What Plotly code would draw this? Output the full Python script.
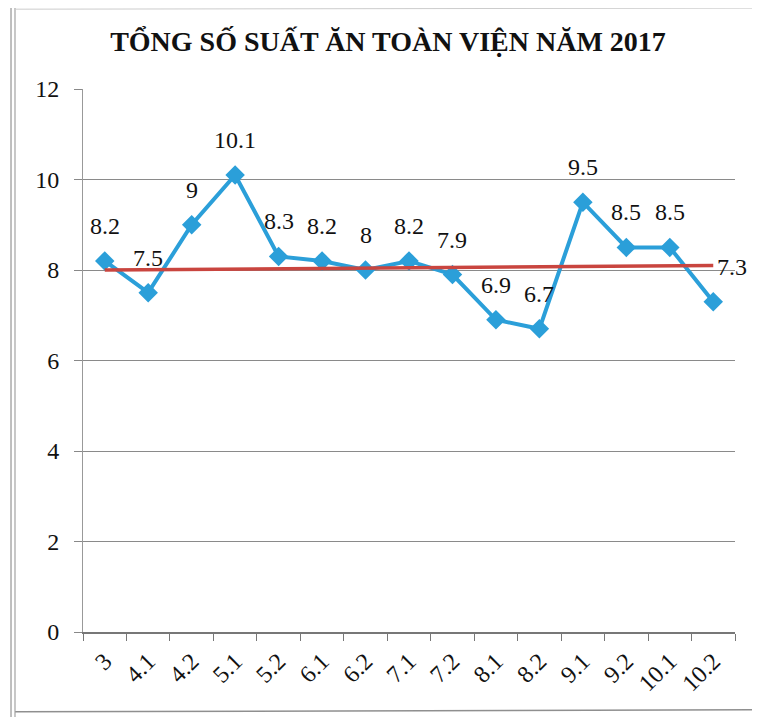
import plotly.graph_objects as go

categories = ["3", "4.1", "4.2", "5.1", "5.2", "6.1", "6.2", "7.1", "7.2", "8.1", "8.2", "9.1", "9.2", "10.1", "10.2"]
values = [8.2, 7.5, 9, 10.1, 8.3, 8.2, 8, 8.2, 7.9, 6.9, 6.7, 9.5, 8.5, 8.5, 7.3]
ref_x = ["3", "10.2"]
ref_values = [8.0, 8.1]
y_ticks = [0, 2, 4, 6, 8, 10, 12]

FONT = "Times New Roman, Liberation Serif, serif"

fig = go.Figure()
fig.add_trace(go.Scatter(
    x=categories, y=values, mode="lines+markers",
    line=dict(color="#2b9fd9", width=4),
    marker=dict(symbol="diamond", size=15, color="#2b9fd9"),
    showlegend=False,
))
fig.add_trace(go.Scatter(
    x=ref_x, y=ref_values, mode="lines",
    line=dict(color="#c9453f", width=3.5), showlegend=False,
))

for i, v in enumerate(values):
    last = i == len(values) - 1
    fig.add_annotation(x=i, y=v, text=str(v), showarrow=False,
                       yshift=35, xshift=19 if last else 0,
                       font=dict(family=FONT, size=24, color="#111111"))

fig.update_layout(
    width=760, height=717,
    paper_bgcolor="white", plot_bgcolor="white",
    margin=dict(l=75, r=33, t=81, b=93),
    title=dict(text="<b>TỔNG SỐ SUẤT ĂN TOÀN VIỆN NĂM 2017</b>",
               x=0.5, xanchor="center", y=0.953, yanchor="middle",
               font=dict(family=FONT, size=28, color="#111111")),
    font=dict(family=FONT, size=24, color="#111111"),
)
fig.update_xaxes(
    type="category", categoryorder="array", categoryarray=categories,
    range=[-0.5, 14.5], tickson="boundaries", ticks="outside", ticklen=7,
    tickcolor="#777777", showline=True, linecolor="#777777", linewidth=1.5,
    showgrid=False, tickangle=-45, ticklabelstandoff=4,
    tickfont=dict(family=FONT, size=24, color="#111111"),
)
fig.update_yaxes(
    range=[0, 12], tickvals=y_ticks, ticks="outside", ticklen=8, tickcolor="#888888",
    showline=True, linecolor="#999999", linewidth=1, ticklabelstandoff=10,
    showgrid=True, gridcolor="#8a8a8a", gridwidth=1, zeroline=False,
    tickfont=dict(family=FONT, size=24, color="#111111"),
)

# scanned page frame
for xp, col in [(-0.1104, "#aaaaaa"), (-0.1043, "#b5b5b5")]:
    fig.add_shape(type="line", xref="paper", yref="paper", x0=xp, x1=xp, y0=-0.17, y1=1.16,
                  line=dict(color=col, width=1.5))
fig.add_shape(type="line", xref="paper", yref="paper", x0=-0.104, x1=1.06, y0=-0.147, y1=-0.143,
              line=dict(color="#8f8f8f", width=1.5))
fig.add_shape(type="line", xref="paper", yref="paper", x0=-0.104, x1=1.06, y0=1.147, y1=1.149,
              line=dict(color="#cccccc", width=1))

fig.write_html("out.html")
